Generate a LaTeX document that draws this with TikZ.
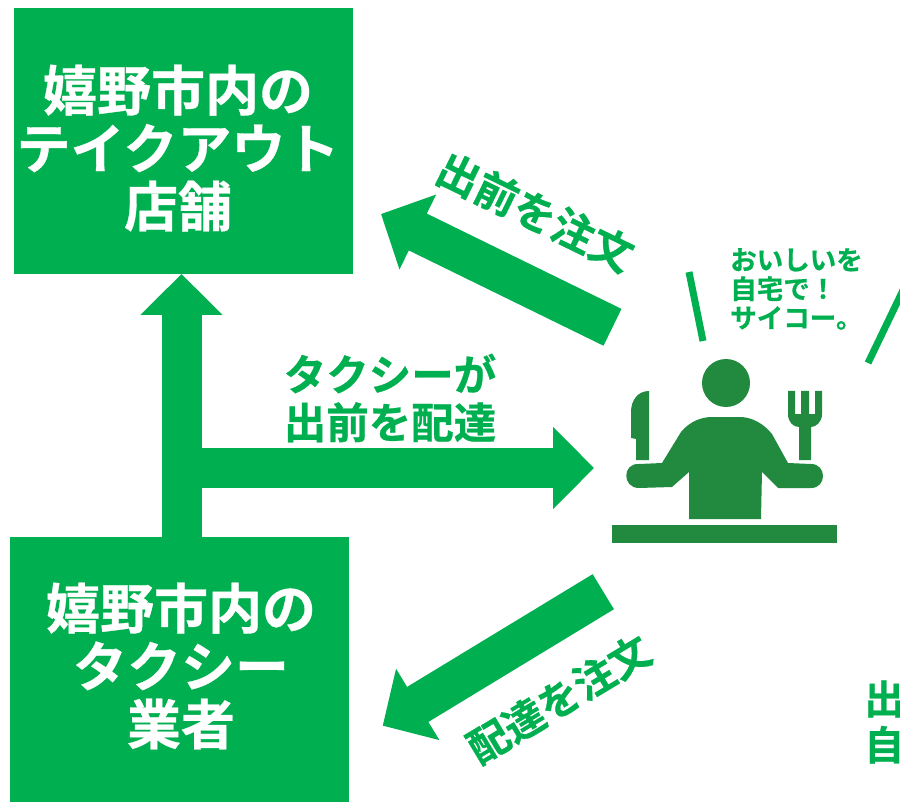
\documentclass[tikz,border=0pt]{standalone}
\usepackage{fontspec}
\setmainfont{Noto Sans CJK JP}[BoldFont={Noto Sans CJK JP Bold},BoldFeatures={FakeBold=0.6}]
\usetikzlibrary{arrows.meta}
\definecolor{brand}{HTML}{00AF4F}
\definecolor{figure}{HTML}{218A3F}
\tikzset{
  x=1pt,y=-1pt,
  box/.style={fill=brand,draw=none},
  boxtext/.style={text=white,font=\fontsize{54}{58}\selectfont\bfseries,align=center,inner sep=0pt},
  label/.style={text=brand,font=\fontsize{42.5}{48}\selectfont\bfseries,align=center,inner sep=0pt},
  small/.style={text=brand,font=\fontsize{26.5}{29}\selectfont\bfseries,align=left,inner sep=0pt},
  fat/.style={draw=brand,line width=40pt,-{Triangle[length=41pt,width=80pt]}},
  fatd/.style={draw=brand,line width=41pt,-{Triangle[length=41pt,width=81pt]}},
  tick/.style={draw=brand,line width=7pt},
  fig/.style={fill=figure,draw=none}
}
\begin{document}
\begin{tikzpicture}
\useasboundingbox (0,0) rectangle (900,802);
\clip (0,0) rectangle (900,802);
% boxes
\fill[box] (14,8) rectangle (353,274.5);
\fill[box] (10,537) rectangle (349,802);
\node[boxtext] (shop) at (178,148) {嬉野市内の\\テイクアウト\\店舗};
\node[boxtext] (taxi) at (181,666) {嬉野市内の\\タクシー\\業者};
% coordinates
\coordinate (boxB) at (181.5,537);
\coordinate (boxA) at (181.5,274);
\coordinate (junction) at (181.5,468);
\coordinate (person) at (594,468);
\coordinate (o1s) at (612.5,327.3);
\coordinate (o1e) at (381,214);
\coordinate (o2s) at (603.3,591.7);
\coordinate (o2e) at (382.7,725.7);
% arrows
\draw[fat] (boxB) -- (boxA);
\draw[fat] (junction) -- (person);
\draw[fatd] (o1s) -- (o1e);
\draw[fatd] (o2s) -- (o2e);
% labels
\node[label,rotate=-26] (l1) at (535.3,212) {出前を注文};
\node[label,rotate=31,font=\fontsize{41}{48}\selectfont\bfseries] (l2) at (559,699) {配達を注文};
\node[label] (l3) at (390,398) {タクシーが\\出前を配達};
\node[small] (l4) at (796.5,289) {おいしいを\\自宅で！\\サイコー。};
\node[label,anchor=west,font=\fontsize{40}{46}\selectfont\bfseries,align=left] (l5) at (864,722) {出\\自};
% ticks
\coordinate (t1a) at (689,272);
\coordinate (t1b) at (703,341);
\coordinate (t2a) at (868,363);
\coordinate (t2b) at (906,284);
\draw[tick] (t1a) -- (t1b);
\draw[tick] (t2a) -- (t2b);
% figure
\fill[fig] (726,383) circle (24);
\fill[fig] (612,525) rectangle (837,543);
\fill[fig] (689,519) -- (689,472) -- (672,487) -- (639,488)
  .. controls (622,488) and (622,463) .. (639,464) -- (662,463) -- (681,432)
  .. controls (690,421) and (702,417) .. (712,417) -- (740,417)
  .. controls (752,417) and (764,424) .. (772,434) -- (788,463) -- (811,464)
  .. controls (827,464) and (827,488) .. (811,488) -- (778,488) -- (762,472) -- (761,519) -- cycle;
\fill[fig] (649,391) -- (649,460) -- (636,460) -- (636,439) -- (631,438) -- (631,412)
  .. controls (631,400) and (638,391) .. (649,391) -- cycle;
\fill[fig] (788,391) -- (795,391) -- (795,414) -- (801,414) -- (801,391) -- (809,391) -- (809,414) -- (815,414) -- (815,391) -- (822,391) -- (822,414)
  .. controls (822,422) and (816,427) .. (811,427) -- (811,460) -- (799,460) -- (799,427)
  .. controls (793,427) and (788,422) .. (788,414) -- cycle;
\end{tikzpicture}
\end{document}
